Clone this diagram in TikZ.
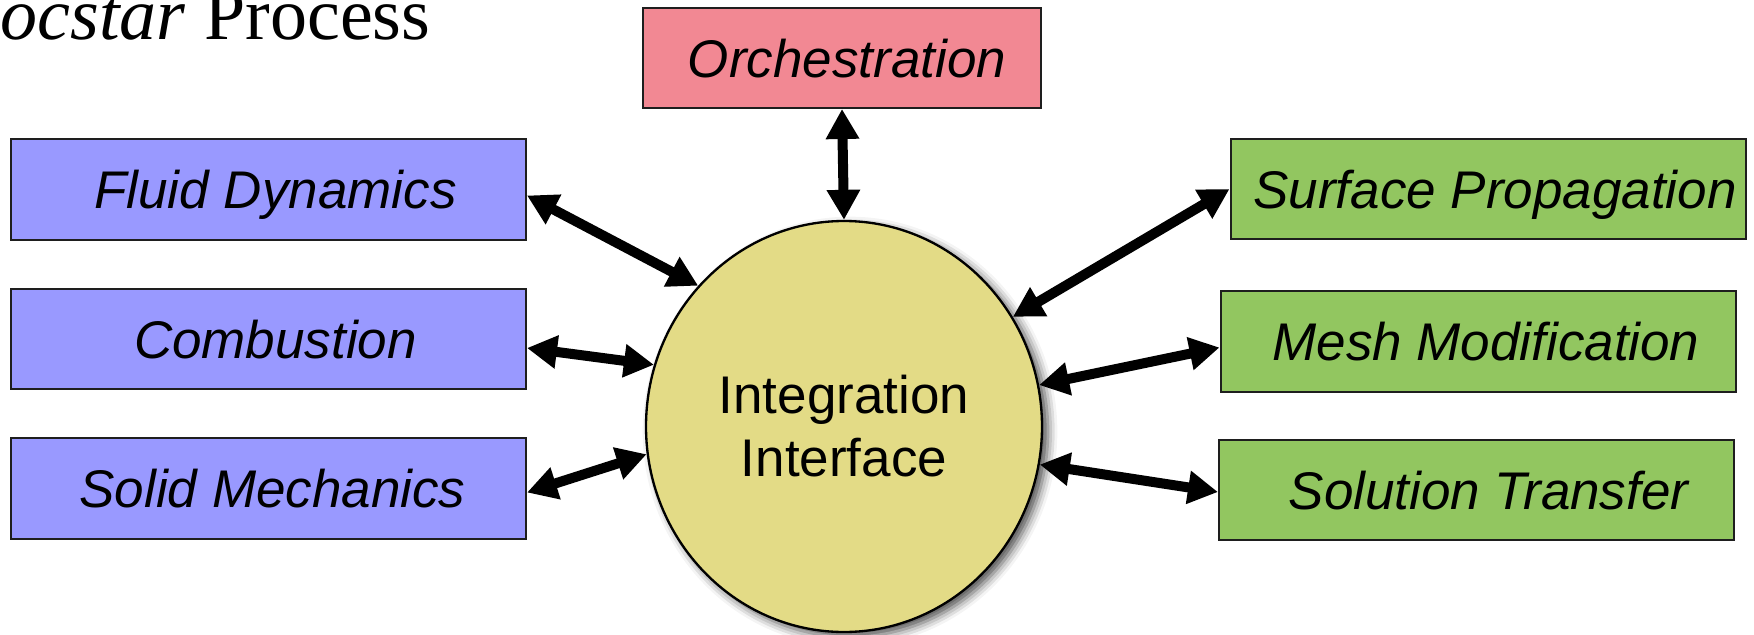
\documentclass[tikz,border=0pt]{standalone}
\usepackage{fontspec}
\setmainfont{Liberation Serif}
\setsansfont{Liberation Sans}
\usetikzlibrary{arrows.meta,shapes.geometric,shadows.blur,calc}

\definecolor{physblue}{RGB}{153,153,255}
\definecolor{servgreen}{RGB}{146,198,96}
\definecolor{orchpink}{RGB}{242,136,147}
\definecolor{hubkhaki}{RGB}{227,219,134}
\definecolor{boxline}{RGB}{30,30,30}

\tikzset{
  link/.style={line width=3pt,
    arrows={Triangle[length=9pt,width=9.5pt]-Triangle[length=9pt,width=9.5pt]}}
}

\begin{document}
\begin{tikzpicture}[x=0.3pt,y=-0.3pt,
  module/.style={draw=boxline, line width=0.6pt, inner sep=0pt,
    minimum width=154.5pt, minimum height=30.2pt,
    font=\sffamily\itshape\fontsize{15.9pt}{19pt}\selectfont,
    text height=11.5pt, text depth=0pt},
  physics/.style={module, fill=physblue},
  service/.style={module, fill=servgreen},
  hub/.style={ellipse, draw=black, line width=0.7pt, fill=hubkhaki,
    inner sep=0pt, minimum width=118.8pt, minimum height=123.3pt,
    align=center, font=\sffamily\fontsize{15.9pt}{18.9pt}\selectfont,
    blur shadow={shadow xshift=1.8pt, shadow yshift=-1.5pt,
      shadow blur radius=2.8pt, shadow opacity=70}}
]
\useasboundingbox (0,0) rectangle (1754,635);

% heading
\node[anchor=base west, inner sep=0pt,
  font=\rmfamily\fontsize{22.2pt}{26pt}\selectfont] (title) at (0,39)
  {\textit{ocstar} Process};

% central interface
\node[hub] (ii) at (844,426.5) {Integration\\Interface};

% orchestration on top
\node[module, fill=orchpink, minimum width=119.4pt, minimum height=30pt]
  (orch) at (842,58) {\hspace*{3pt}Orchestration};

% physics modules
\node[physics] (fluid) at (268.5,189.5) {\hspace*{4.2pt}Fluid Dynamics};
\node[physics] (comb)  at (268.5,339)   {\hspace*{4.2pt}Combustion};
\node[physics] (solid) at (268.5,488.5) {\hspace*{2.4pt}Solid Mechanics};

% service modules
\node[service] (surf) at (1488,189)   {\hspace*{4.2pt}Surface Propagation};
\node[service] (mesh) at (1478,341.5) {\hspace*{4.8pt}Mesh Modification};
\node[service] (sol)  at (1476.5,490) {\hspace*{7.2pt}Solution Transfer};

% connectors
\draw[link] (orch.south) -- (ii.north);
\draw[link] ($(fluid.east)+(0,6)$) -- (ii.136);
\draw[link] ($(comb.east)+(0,9)$)  -- (ii.162);
\draw[link] ($(solid.east)+(0,4)$) -- (ii.188);
\draw[link] (surf.west) -- (ii.33);
\draw[link] ($(mesh.west)+(0,6)$)  -- (ii.12);
\draw[link] ($(sol.west)+(0,2)$)   -- (ii.-11);
\end{tikzpicture}
\end{document}
